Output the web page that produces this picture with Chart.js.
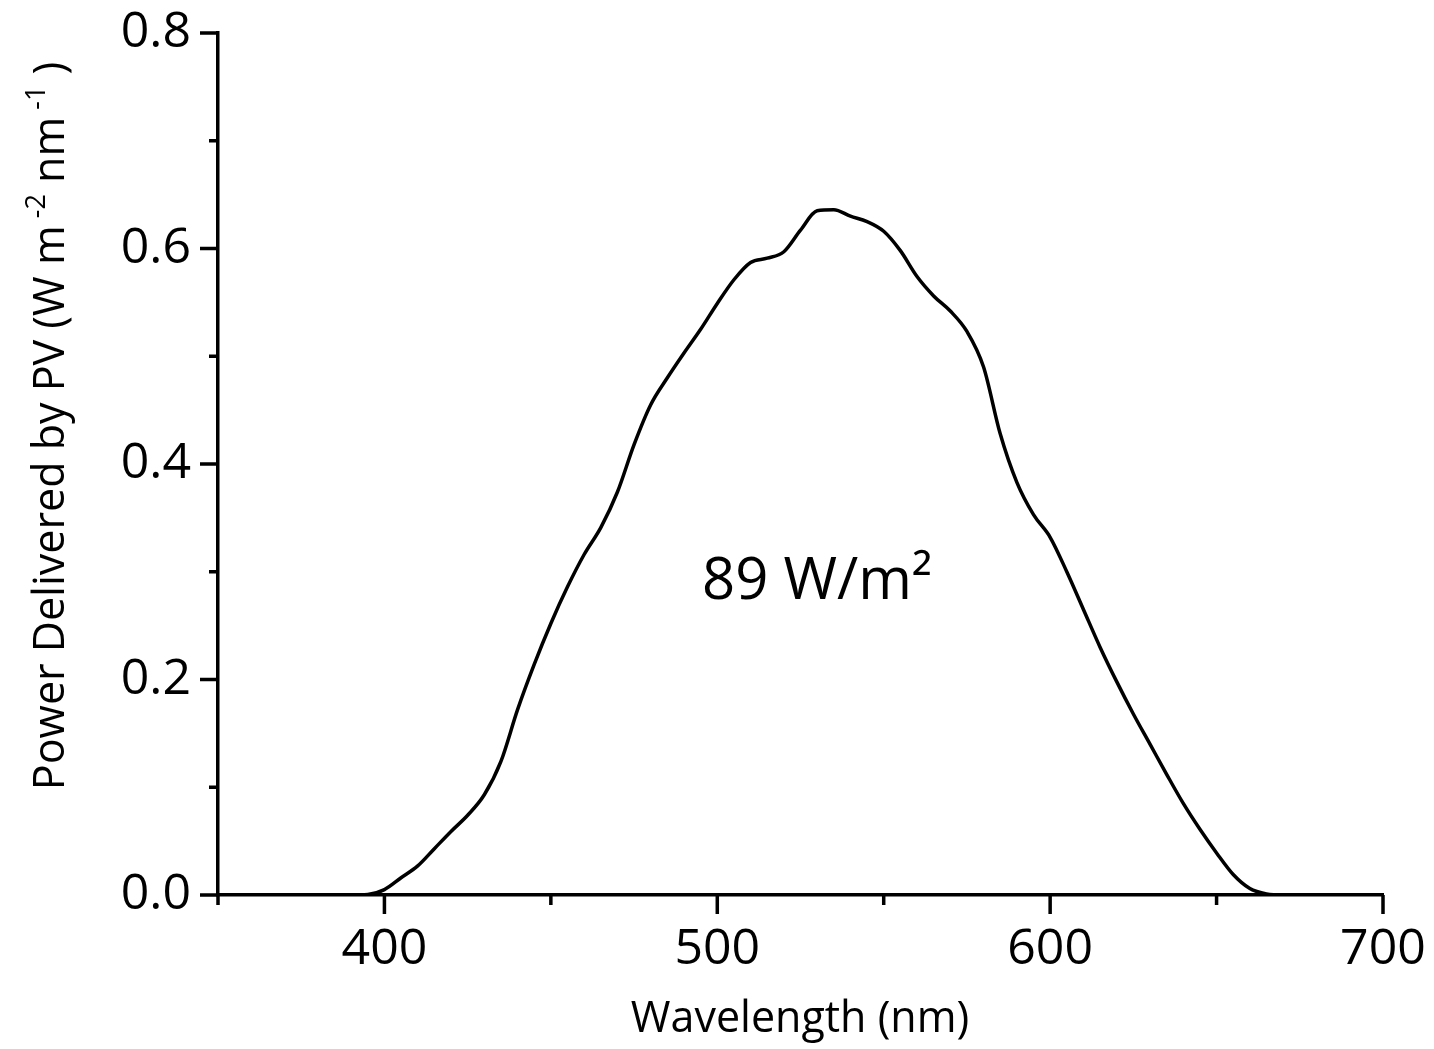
<!DOCTYPE html>
<html>
<head>
<meta charset="utf-8">
<script src="https://cdn.jsdelivr.net/npm/chart.js@4"></script>
<style>
  html, body { margin: 0; padding: 0; background: #fff; }
  #wrap { width: 1434px; height: 1049px; }
</style>
</head>
<body>
<div id="wrap"><canvas id="c" width="1434" height="1049"></canvas></div>
<script>
// ---- data ----
const wavelengths = [350,355,360,365,370,375,380,385,390,395,400,405,410,415,420,425,430,435,440,445,450,455,460,465,470,475,480,485,490,495,500,505,510,515,520,525,530,535,540,545,550,555,560,565,570,575,580,585,590,595,600,605,610,615,620,625,630,635,640,645,650,655,660,665,670,675,680,685,690,695,700];
const power = [0,0,0,0,0,0,0,0,0,0.0005,0.005,0.016,0.027,0.043,0.059,0.074,0.093,0.124,0.172,0.214,0.252,0.286,0.316,0.341,0.374,0.418,0.455,0.480,0.503,0.525,0.549,0.571,0.587,0.591,0.597,0.617,0.635,0.636,0.630,0.625,0.616,0.598,0.574,0.556,0.542,0.523,0.490,0.428,0.383,0.353,0.332,0.300,0.265,0.230,0.198,0.168,0.140,0.112,0.085,0.061,0.039,0.019,0.006,0.001,0,0,0,0,0,0,0];
const xTickLabels = [400, 500, 600, 700];
const yTickLabels = [0.0, 0.2, 0.4, 0.6, 0.8];
const xMinorTicks = [350, 450, 550, 650];
const yMinorTicks = [0.1, 0.3, 0.5, 0.7];
const xTitle = 'Wavelength (nm)';
const yTitleParts = [['Power Delivered by PV (W m', false], [' -2', true], [' nm', false], [' -1', true], [' )', false]];
const annotationText = '89 W/m²';
const annotationPos = { x: 530, y: 0.29 };

const FONT = '"Open Sans", "Liberation Sans", sans-serif';

const decor = {
  id: 'decor',
  afterDraw(chart) {
    const ctx = chart.ctx;
    const xs = chart.scales.x, ys = chart.scales.y;
    const x0 = xs.getPixelForValue(350), y0 = ys.getPixelForValue(0);
    ctx.save();
    ctx.strokeStyle = '#000';
    ctx.lineWidth = 3.5;
    ctx.lineCap = 'butt';
    ctx.beginPath();
    xTickLabels.forEach(v => { const p = xs.getPixelForValue(v); ctx.moveTo(p, y0); ctx.lineTo(p, y0 + 19); });
    xMinorTicks.forEach(v => { const p = xs.getPixelForValue(v); ctx.moveTo(p, y0); ctx.lineTo(p, y0 + 10); });
    yTickLabels.forEach(v => { const p = ys.getPixelForValue(v); ctx.moveTo(x0, p); ctx.lineTo(x0 - 18, p); });
    yMinorTicks.forEach(v => { const p = ys.getPixelForValue(v); ctx.moveTo(x0, p); ctx.lineTo(x0 - 9, p); });
    ctx.stroke();

    ctx.fillStyle = '#000';
    // x title
    ctx.font = '43px ' + FONT;
    ctx.textAlign = 'center';
    ctx.textBaseline = 'middle';
    ctx.fillText(xTitle, 800, 1020);

    // y title with superscripts
    ctx.save();
    ctx.translate(52, 426);
    ctx.rotate(-Math.PI / 2);
    const big = '43px ' + FONT, small = '27px ' + FONT;
    let total = 0;
    yTitleParts.forEach(([t, sup]) => { ctx.font = sup ? small : big; total += ctx.measureText(t).width; });
    let cx = -total / 2;
    ctx.textAlign = 'left';
    ctx.textBaseline = 'middle';
    yTitleParts.forEach(([t, sup]) => {
      ctx.font = sup ? small : big;
      ctx.fillText(t, cx, sup ? -15 : 0);
      cx += ctx.measureText(t).width;
    });
    ctx.restore();

    // annotation
    ctx.font = '58px ' + FONT;
    ctx.textAlign = 'center';
    ctx.textBaseline = 'middle';
    ctx.fillText(annotationText, xs.getPixelForValue(annotationPos.x), ys.getPixelForValue(annotationPos.y));
    ctx.restore();
  }
};

new Chart(document.getElementById('c'), {
  type: 'line',
  data: {
    datasets: [{
      data: wavelengths.map((w, i) => ({ x: w, y: power[i] })),
      borderColor: '#000',
      borderWidth: 3.5,
      pointRadius: 0,
      fill: false,
      cubicInterpolationMode: 'monotone'
    }]
  },
  options: {
    responsive: false,
    animation: false,
    layout: { padding: { top: 33, right: 51, left: 0, bottom: 0 } },
    plugins: { legend: { display: false }, tooltip: { enabled: false } },
    scales: {
      x: {
        type: 'linear',
        min: 350, max: 700,
        afterBuildTicks: s => { s.ticks = xTickLabels.map(v => ({ value: v })); },
        afterFit: s => { s.height = 1049 - 895; s.paddingLeft = 0; s.paddingRight = 0; },
        grid: { display: false },
        border: { display: true, color: '#000', width: 3.5 },
        ticks: { color: '#000', font: { family: FONT, size: 50 }, padding: 17, maxRotation: 0, autoSkip: false }
      },
      y: {
        type: 'linear',
        min: 0, max: 0.8,
        afterBuildTicks: s => { s.ticks = yTickLabels.map(v => ({ value: v })); },
        afterFit: s => { s.width = 218; s.paddingTop = 0; s.paddingBottom = 0; },
        grid: { display: false },
        border: { display: true, color: '#000', width: 3.5 },
        ticks: { color: '#000', font: { family: FONT, size: 50 }, padding: 19, callback: v => Number(v).toFixed(1) }
      }
    }
  },
  plugins: [decor]
});
</script>
</body>
</html>
